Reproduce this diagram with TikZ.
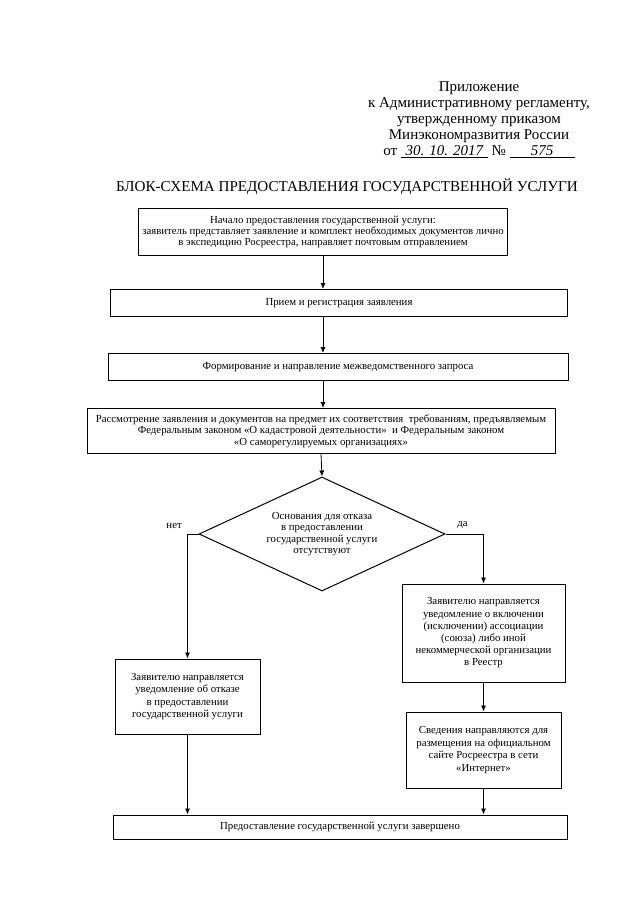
\documentclass[tikz,border=0pt]{standalone}
\usepackage{fontspec}
\setmainfont{Liberation Serif}
\usetikzlibrary{shapes.geometric,arrows,arrows.meta}

\begin{document}
\begin{tikzpicture}[x=1pt,y=1pt,auto,>={Latex[length=6pt,width=5pt]}]
			\tikzstyle{every node}=[font=\fontsize{10.8}{11.6}\selectfont]
			\tikzstyle{block}=[draw,line width=1pt,align=center,inner sep=1.5pt]
			\tikzstyle{choice}=[draw,diamond,aspect=2.2,line width=1pt,align=center,inner sep=0pt,minimum width=246pt,minimum height=114pt]
			\tikzstyle{flow}=[line width=0.8pt,->]
			\useasboundingbox (0,0) rectangle (640,-905);
			%Header
			\node[align=center,font=\fontsize{15}{16}\selectfont](hdr) at (479,-120){Приложение\\
			к Административному регламенту,\\
			утвержденному приказом\\
			Минэкономразвития России\\
			от \underline{\makebox[87pt]{\itshape 30. 10. 2017}} № \underline{\makebox[65pt]{\itshape 575}}};
			\node[font=\fontsize{15.1}{16}\selectfont](title) at (347,-187){БЛОК-СХЕМА ПРЕДОСТАВЛЕНИЯ ГОСУДАРСТВЕННОЙ УСЛУГИ};
			%Main Column
			\node[block,minimum width=369pt,minimum height=47pt,font=\fontsize{10.8}{10.6}\selectfont](start) at (323,-232){Начало предоставления государственной услуги:\\
			заявитель представляет заявление и комплект необходимых документов лично\\
			в экспедицию Росреестра, направляет почтовым отправлением};
			\node[block,minimum width=457pt,minimum height=27pt](reg)[below of = start, node distance=71pt, xshift=16pt]{Прием и регистрация заявления};
			\node[block,minimum width=460pt,minimum height=27pt](req)[below of = reg, node distance=64pt, xshift=-1pt]{Формирование и направление межведомственного запроса};
			\node[block,minimum width=468pt,minimum height=45pt](check)[below of = req, node distance=64pt, xshift=-17pt]{Рассмотрение заявления и документов на предмет их соответствия\ \ требованиям, предъявляемым\\
			Федеральным законом «О кадастровой деятельности»\ \ и Федеральным законом\\
			«О саморегулируемых организациях»};
			\node[choice](cond)[below of = check, node distance=103pt, xshift=1pt]{Основания для отказа\\
			в предоставлении\\
			государственной услуги\\
			отсутствуют};
			%Branches
			\node[block,minimum width=145pt,minimum height=75pt,font=\fontsize{10.8}{12.4}\selectfont](refuse)[below of = cond, node distance=162.5pt, xshift=-134.5pt]{Заявителю направляется\\
			уведомление об отказе\\
			в предоставлении\\
			государственной услуги};
			\node[block,minimum width=163pt,minimum height=98pt,font=\fontsize{10.8}{12.2}\selectfont](notify)[below of = cond, node distance=99pt, xshift=161.5pt]{Заявителю направляется\\
			уведомление о включении\\
			(исключении) ассоциации\\
			(союза) либо иной\\
			некоммерческой организации\\
			в Реестр};
			\node[block,minimum width=155pt,minimum height=76pt,font=\fontsize{10.8}{12.4}\selectfont](publish)[below of = notify, node distance=117pt]{Сведения направляются для\\
			размещения на официальном\\
			сайте Росреестра в сети\\
			«Интернет»};
			\node[block,minimum width=454pt,minimum height=24pt](done)[below of = cond, node distance=293pt, xshift=18pt]{Предоставление государственной услуги завершено};
			%Arrows
			\draw[flow](start.south)--(start.south |- reg.north);
			\draw[flow](start.south |- reg.south)--(start.south |- req.north);
			\draw[flow](start.south |- req.south)--(start.south |- check.north);
			\draw[flow](check.south)--(cond.north);
			\draw[flow](cond.west) -| node[pos=0.5, above left, xshift=-2pt, yshift=2pt]{нет} (refuse.north);
			\draw[flow](cond.east) -| node[pos=0.5, above left, xshift=-12pt, yshift=2pt]{да} (notify.north);
			\draw[flow](notify.south)--(publish.north);
			\draw[flow](refuse.south)--(refuse.south |- done.north);
			\draw[flow](publish.south)--(publish.south |- done.north);
\end{tikzpicture}
\end{document}
